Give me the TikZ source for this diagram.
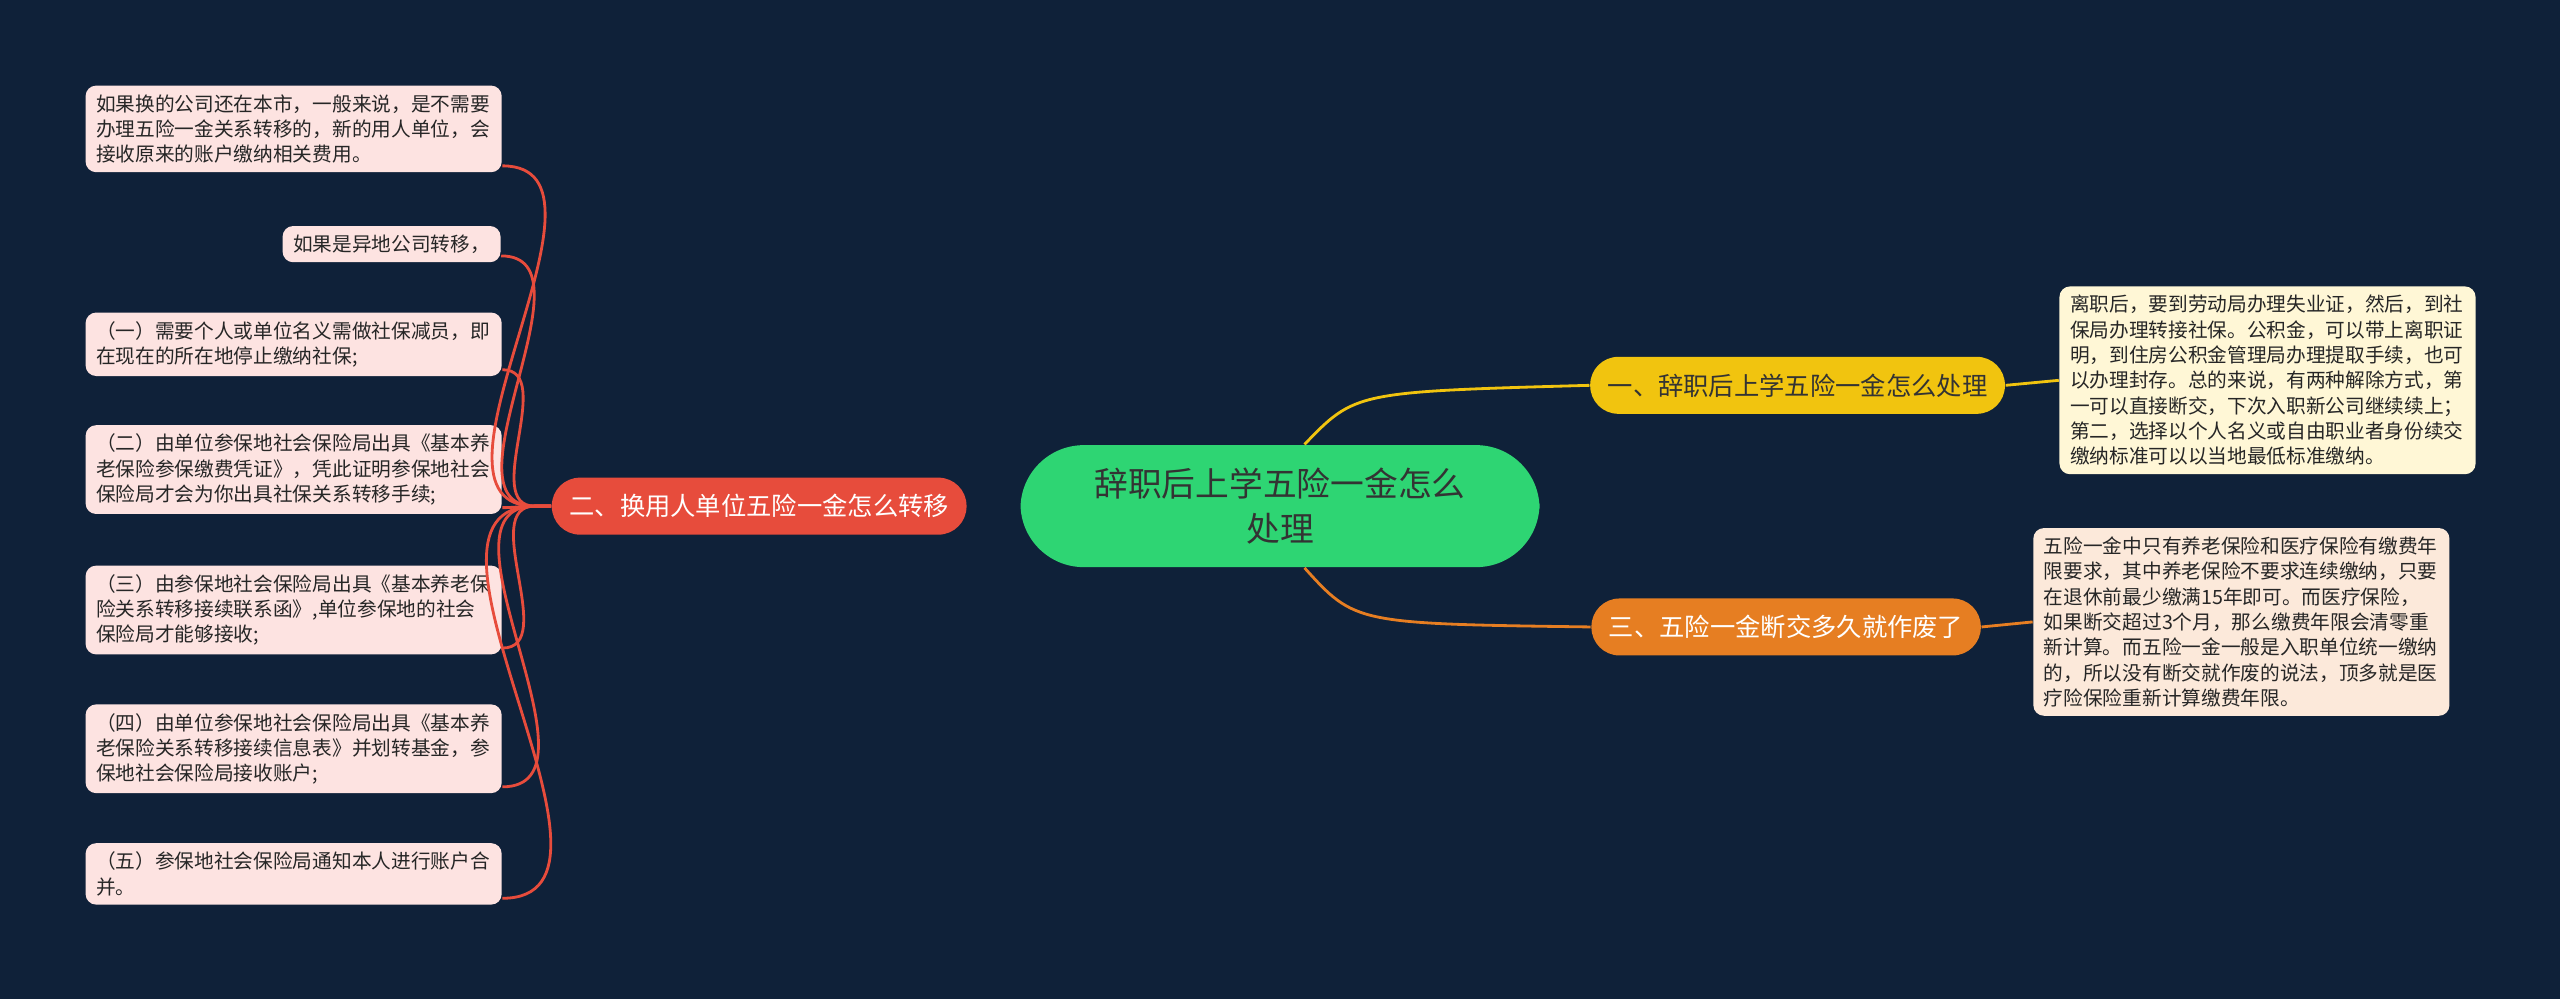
\documentclass[tikz,border=0pt]{standalone}
\usepackage{fontspec}
\newfontfamily\cjk{Noto Sans CJK SC}
\definecolor{bgc}{HTML}{0F2139}
\definecolor{rootc}{HTML}{2ED573}
\definecolor{yelc}{HTML}{F1C40F}
\definecolor{orac}{HTML}{E67E22}
\definecolor{redc}{HTML}{E74C3C}
\definecolor{leafy}{HTML}{FFF7D6}
\definecolor{leafo}{HTML}{FCE9DA}
\definecolor{leafr}{HTML}{FDE3E1}
\tikzset{
  root/.style={fill=rootc,rounded corners=18pt,minimum width=5.19cm,minimum height=1.22cm,align=center,font=\cjk\fontsize{9.6}{13}\selectfont,text=black!80},
  branch/.style={rounded corners=8pt,minimum height=0.57cm,inner xsep=5pt,font=\cjk\fontsize{7.2}{9}\selectfont},
  leaf/.style={rounded corners=3pt,align=left,inner xsep=3pt,inner ysep=2.5pt,font=\cjk\fontsize{5.6}{7.2}\selectfont,text=black!85,anchor=north west},
  wide/.style={text width=3.95cm},
  link/.style={line width=0.8pt}
}
\begin{document}
\begin{tikzpicture}[x=0.016327cm,y=-0.016327cm]
\fill[bgc] (0,0) rectangle (1568,612);
% centre and branches
\node[root] (R) at (784,310) {辞职后上学五险一金怎么\\处理};
\node[branch,fill=yelc,text=black!80] (A) at (1101,236) {一、辞职后上学五险一金怎么处理};
\node[branch,fill=orac,text=white] (C) at (1094,384) {三、五险一金断交多久就作废了};
\node[branch,fill=redc,text=white] (B) at (465,310) {二、换用人单位五险一金怎么转移};
% right leaves
\node[leaf,wide,fill=leafy] (A1) at (1261,175) {离职后，要到劳动局办理失业证，然后，到社\\保局办理转接社保。公积金，可以带上离职证\\明，到住房公积金管理局办理提取手续，也可\\以办理封存。总的来说，有两种解除方式，第\\一可以直接断交，下次入职新公司继续续上；\\第二，选择以个人名义或自由职业者身份续交\\缴纳标准可以以当地最低标准缴纳。};
\node[leaf,wide,fill=leafo] (C1) at (1245,323) {五险一金中只有养老保险和医疗保险有缴费年\\限要求，其中养老保险不要求连续缴纳，只要\\在退休前最少缴满15年即可。而医疗保险，\\如果断交超过3个月，那么缴费年限会清零重\\新计算。而五险一金一般是入职单位统一缴纳\\的，所以没有断交就作废的说法，顶多就是医\\疗险保险重新计算缴费年限。};
% left leaves
\node[leaf,wide,fill=leafr] (B1) at (52,52) {如果换的公司还在本市，一般来说，是不需要\\办理五险一金关系转移的，新的用人单位，会\\接收原来的账户缴纳相关费用。};
\node[leaf,fill=leafr,anchor=north east] (B2) at (307,138) {如果是异地公司转移，};
\node[leaf,wide,fill=leafr] (B3) at (52,191) {（一）需要个人或单位名义需做社保减员，即\\在现在的所在地停止缴纳社保;};
\node[leaf,wide,fill=leafr] (B4) at (52,260) {（二）由单位参保地社会保险局出具《基本养\\老保险参保缴费凭证》，凭此证明参保地社会\\保险局才会为你出具社保关系转移手续;};
\node[leaf,wide,fill=leafr] (B5) at (52,346) {（三）由参保地社会保险局出具《基本养老保\\险关系转移接续联系函》,单位参保地的社会\\保险局才能够接收;};
\node[leaf,wide,fill=leafr] (B6) at (52,431) {（四）由单位参保地社会保险局出具《基本养\\老保险关系转移接续信息表》并划转基金，参\\保地社会保险局接收账户;};
\node[leaf,wide,fill=leafr] (B7) at (52,516) {（五）参保地社会保险局通知本人进行账户合\\并。};
% connectors
\draw[link,yelc] (R.north) ++(15,0) coordinate (r1) .. controls (830,240) .. (A.west);
\draw[link,orac] (R.south) ++(15,0) coordinate (r3) .. controls (830,382) .. (C.west);
\draw[link,yelc] (A.east) -- (A1.west);
\draw[link,orac] (C.east) -- (C1.west);
\foreach \n in {B1,B2,B3,B4,B5,B6,B7}
  \draw[link,redc] (B.west) -- ++(-10,0) coordinate (bj) to[out=180,in=0] ([yshift=2pt]\n.south east);
\end{tikzpicture}
\end{document}
